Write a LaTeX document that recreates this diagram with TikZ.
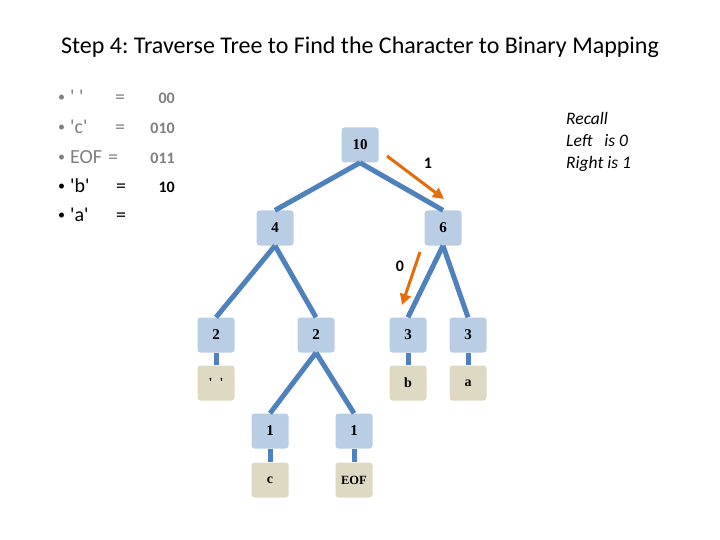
\documentclass[tikz,border=0pt]{standalone}
\usepackage{fontspec}
\setmainfont{Carlito}
\newfontfamily\tnr{Liberation Serif}
\usetikzlibrary{arrows.meta,positioning}
\frenchspacing
\definecolor{tblue}{HTML}{4F81BD}
\definecolor{tbox}{HTML}{B9CDE5}
\definecolor{tleaf}{HTML}{DDD9C3}
\definecolor{torange}{HTML}{E46C0A}
\definecolor{tgrey}{HTML}{7F7F7F}
\tikzset{
  inbox/.style={fill=tbox,rounded corners=3pt,minimum width=37pt,minimum height=35pt,inner sep=0pt,font=\tnr\bfseries\fontsize{15}{17}\selectfont},
  leafbox/.style={fill=tleaf,rounded corners=3pt,minimum width=37pt,minimum height=35pt,inner sep=0pt,font=\tnr\bfseries\fontsize{14}{16}\selectfont},
  edge/.style={draw=tblue,line width=5pt},
  oarr/.style={-{Triangle[length=11pt,width=11pt]},line width=3pt,draw=torange},
  lbl/.style={font=\bfseries\fontsize{16}{18}\selectfont},
  item/.style={font=\fontsize{20}{22}\selectfont,anchor=base west,inner sep=0pt},
}

\begin{document}
\begin{tikzpicture}[x=1pt,y=-1pt]
  \useasboundingbox (0,0) rectangle (720,540);
  % title
  \node[font=\fontsize{24}{28}\selectfont] (title) at (360,47) {Step 4: Traverse Tree to Find the Character to Binary Mapping};
  % mapping list
  \foreach \y/\k/\ex/\cd/\c [count=\i] in {104/{\textquotesingle\ \textquotesingle}/115/00/tgrey,134/{\textquotesingle c\textquotesingle}/115/010/tgrey,164/{EOF}/108/011/tgrey,193/{\textquotesingle b\textquotesingle}/116/10/black,222/{\textquotesingle a\textquotesingle}/116/{}/black} {
    \node[item,text=\c,font=\fontsize{14}{16}\selectfont] (bul\i) at (58,\y-2) {\textbullet};
    \node[item,text=\c] (key\i) at (70,\y) {\k};
    \node[item,text=\c] (eq\i) at (\ex,\y) {=};
    \node[item,text=\c,anchor=base east,font=\bfseries\fontsize{16}{18}\selectfont] (code\i) at (175,\y) {\cd};
  }
  % recall note
  \node[anchor=north west,align=left,font=\itshape\fontsize{17.5}{22}\selectfont,inner sep=0pt] (recall) at (566,112) {Recall\\Left\ \ \ is 0\\Right is 1};
  % tree
  \node[inbox] (n10) at (360,145) {10};
  \node[inbox] (n4) at (275,228) {4};
  \node[inbox] (n6) at (443,228) {6};
  \node[inbox] (n2l) at (216,335) {2};
  \node[inbox] (n2r) at (316,335) {2};
  \node[inbox] (n3b) at (408,335) {3};
  \node[inbox] (n3a) at (468,335) {3};
  \node[leafbox] (lsp) at (216,383) {\textquotesingle\hspace{7pt}\textquotesingle};
  \node[leafbox] (lb) at (408,383) {b};
  \node[leafbox] (la) at (468,383) {a};
  \node[inbox] (n1c) at (270,431) {1};
  \node[inbox] (n1e) at (354,431) {1};
  \node[leafbox] (lc) at (270,480) {c};
  \node[leafbox,font=\tnr\bfseries\fontsize{12.5}{14}\selectfont] (leof) at (354,480) {EOF};
  \foreach \a/\b in {n10/n4,n10/n6,n4/n2l,n4/n2r,n6/n3b,n6/n3a,n2r/n1c,n2r/n1e,n2l/lsp,n3b/lb,n3a/la,n1c/lc,n1e/leof}
    \draw[edge] (\a.south) -- (\b.north);
  % path arrows
  \coordinate (o1s) at (387,156);
  \coordinate (o1e) at (444,199);
  \coordinate (o0s) at (420,252);
  \coordinate (o0e) at (402,305);
  \draw[oarr] (o1s) -- (o1e);
  \draw[oarr] (o0s) -- (o0e);
  \node[lbl] (one) at (428,163) {1};
  \node[lbl] (zero) at (400,266) {0};
\end{tikzpicture}
\end{document}
